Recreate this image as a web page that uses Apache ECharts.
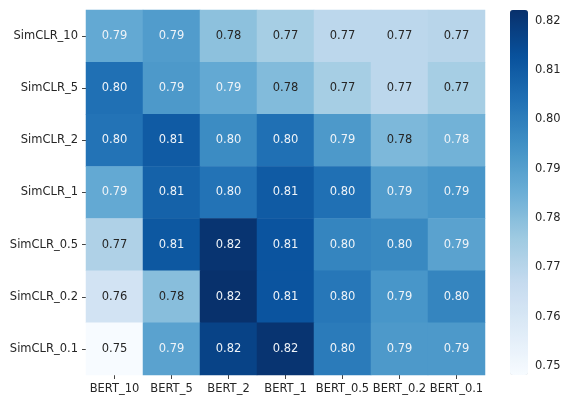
<!DOCTYPE html>
<html>
<head>
<meta charset="utf-8">
<script src="https://cdn.jsdelivr.net/npm/echarts@6/dist/echarts.min.js"></script>
<style>
  html, body { margin: 0; padding: 0; background: #fff; }
  #chart { width: 569px; height: 397px; }
</style>
</head>
<body>
<div id="chart"></div>
<script>
// columns (x) and rows (y, top to bottom)
const bertCols = ['BERT_10', 'BERT_5', 'BERT_2', 'BERT_1', 'BERT_0.5', 'BERT_0.2', 'BERT_0.1']
const simclrRows = ['SimCLR_10', 'SimCLR_5', 'SimCLR_2', 'SimCLR_1', 'SimCLR_0.5', 'SimCLR_0.2', 'SimCLR_0.1']

// one array per row, same order as bertCols
const rowSimCLR10 = [0.787, 0.791, 0.779, 0.774, 0.769, 0.769, 0.770]
const rowSimCLR5 = [0.804, 0.792, 0.787, 0.781, 0.774, 0.769, 0.774]
const rowSimCLR2 = [0.803, 0.810, 0.796, 0.804, 0.792, 0.782, 0.784]
const rowSimCLR1 = [0.787, 0.808, 0.803, 0.810, 0.804, 0.791, 0.793]
const rowSimCLR05 = [0.772, 0.811, 0.821, 0.812, 0.798, 0.797, 0.789]
const rowSimCLR02 = [0.762, 0.780, 0.822, 0.812, 0.802, 0.793, 0.798]
const rowSimCLR01 = [0.748, 0.789, 0.817, 0.821, 0.801, 0.792, 0.792]
const rows = [rowSimCLR10, rowSimCLR5, rowSimCLR2, rowSimCLR1, rowSimCLR05, rowSimCLR02, rowSimCLR01]

const cbarTicks = [0.75, 0.76, 0.77, 0.78, 0.79, 0.80, 0.81, 0.82]
const vmin = 0.7482
const vmax = 0.8222

const blues = ['#f7fbff', '#deebf7', '#c6dbef', '#9ecae1', '#6baed6', '#4292c6', '#2171b5', '#08519c', '#08306b']

const cells = []
rows.forEach((r, yi) => {
    r.forEach((v, xi) => {
        cells.push({
            value: [xi, yi, v],
            label: { color: v > 0.7832 ? '#eef3f8' : '#262626' }
        })
    })
})

const chart = echarts.init(document.getElementById('chart'))
const font = 'DejaVu Sans'
// white axis line (hidden under the cells / on the white page), dark ticks
const whiteLine = { show: true, lineStyle: { color: '#ffffff', width: 1 } }
const tick = { show: true, length: 4, lineStyle: { color: '#444444', width: 1 } }
chart.setOption({
    animation: false,
    textStyle: { fontFamily: font },
    grid: [
        { left: 86, top: 10, width: 399, height: 365 },
        { left: 510, top: 10, width: 18, height: 365 }
    ],
    xAxis: [{
        type: 'category', data: bertCols, gridIndex: 0, z: 0,
        axisLine: whiteLine,
        axisTick: Object.assign({ alignWithLabel: true }, tick),
        axisLabel: { color: '#262626', fontSize: 11.5, margin: 8, interval: 0 },
        splitLine: { show: false }
    }, {
        type: 'value', gridIndex: 1, show: false
    }],
    yAxis: [{
        type: 'category', data: simclrRows, inverse: true, gridIndex: 0, z: 0,
        axisLine: whiteLine,
        axisTick: Object.assign({ alignWithLabel: true }, tick),
        axisLabel: { color: '#262626', fontSize: 11.5, margin: 8 },
        splitLine: { show: false }
    }, {
        type: 'value', gridIndex: 1, position: 'right', min: vmin, max: vmax, z: 0,
        axisLine: whiteLine,
        axisTick: Object.assign({ customValues: cbarTicks }, tick),
        axisLabel: { color: '#262626', fontSize: 11.5, margin: 7, customValues: cbarTicks,
            formatter: v => v.toFixed(2) },
        splitLine: { show: false }
    }],
    visualMap: {
        type: 'continuous', min: vmin, max: vmax, calculable: false, hoverLink: false,
        seriesIndex: 0, inRange: { color: blues },
        left: 510, top: 10, itemWidth: 18, itemHeight: 365, padding: 0,
        text: ['', ''], showLabel: false, z: 5
    },
    series: [{
        type: 'heatmap', xAxisIndex: 0, yAxisIndex: 0, z: 3,
        data: cells,
        label: {
            show: true, fontSize: 11.5, fontFamily: font,
            formatter: p => p.value[2].toFixed(2)
        },
        itemStyle: { borderWidth: 0 }
    }, {
        type: 'line', xAxisIndex: 1, yAxisIndex: 1, data: [], silent: true
    }]
})
</script>
</body>
</html>
